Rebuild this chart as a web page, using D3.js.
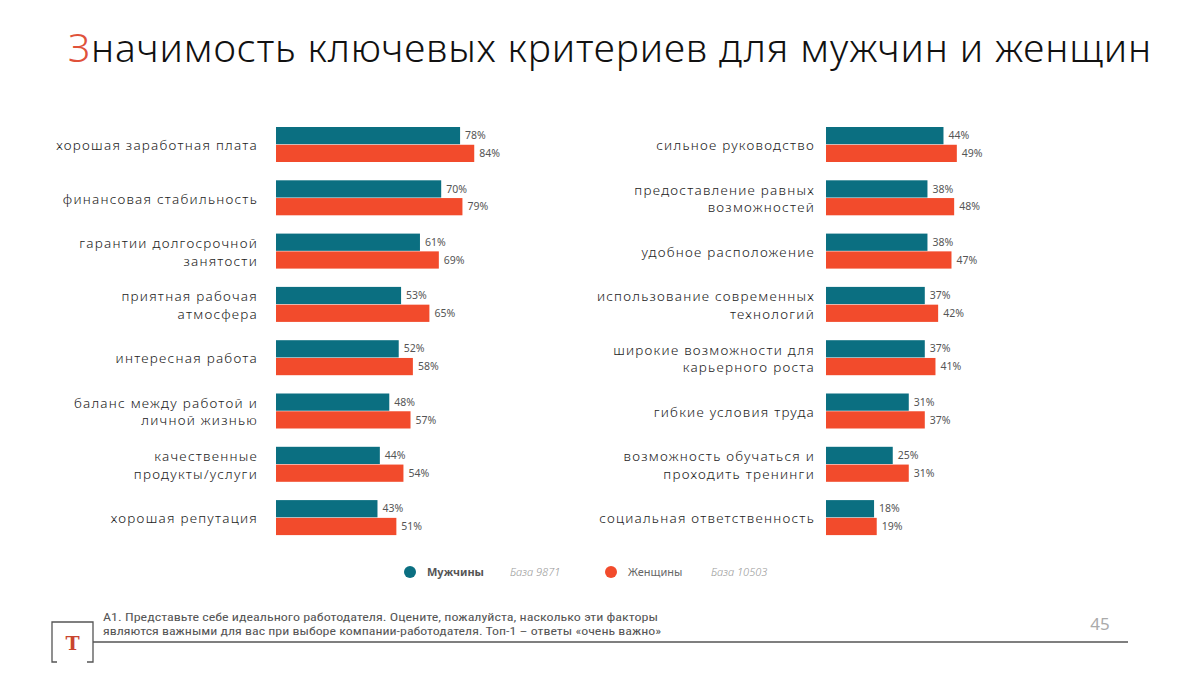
<!DOCTYPE html>
<html><head><meta charset="utf-8">
<script src="https://cdn.jsdelivr.net/npm/d3@7"></script>
<style>body{margin:0;background:#fff}svg{display:block}</style>
</head><body>
<svg id="c" width="1200" height="675"></svg>
<script>
const leftCats = ["хорошая заработная плата","финансовая стабильность","гарантии долгосрочной\nзанятости","приятная рабочая\nатмосфера","интересная работа","баланс между работой и\nличной жизнью","качественные\nпродукты/услуги","хорошая репутация"];
const leftMen = [78,70,61,53,52,48,44,43];
const leftWomen = [84,79,69,65,58,57,54,51];
const rightCats = ["сильное руководство","предоставление равных\nвозможностей","удобное расположение","использование современных\nтехнологий","широкие возможности для\nкарьерного роста","гибкие условия труда","возможность обучаться и\nпроходить тренинги","социальная ответственность"];
const rightMen = [44,38,38,37,37,31,25,18];
const rightWomen = [49,48,47,42,41,37,31,19];
const seriesNames = ["Мужчины","Женщины"];
const bases = ["База 9871","База 10503"];
const colors = ["#0b6f81","#f24b2c"];

const svg = d3.select("#c");
const font = "'Noto Sans', sans-serif";

// Title
const title = svg.append("text").attr("x",68).attr("y",62)
  .style("font-family",font).style("font-size","39px").style("font-weight","300").attr("fill","#111");
title.append("tspan").attr("fill","#e0523a").text("З");
title.append("tspan").text("начимость ключевых критериев для мужчин и женщин");
{
  const L = title.node().getComputedTextLength();
  const n = 49;
  title.style("letter-spacing", ((1084 - L)/n) + "px");
}

function panel(cats, men, women, x0, labelX, pxPer100) {
  const step = 53.3, bw = 35;
  const y = d3.scaleBand().domain(cats).range([127, 127 + 7*step + bw]).paddingInner(1 - bw/step).paddingOuter(0);
  const x = d3.scaleLinear().domain([0,100]).range([x0, x0 + pxPer100]);
  const sub = d3.scaleBand().domain([0,1]).range([0, y.bandwidth()]).paddingInner(0.03);
  const g = svg.append("g");
  const rows = cats.map((c,i)=>({c, v:[men[i],women[i]]}));
  const grp = g.selectAll("g.row").data(rows).join("g").attr("transform",d=>`translate(0,${y(d.c)})`);
  grp.selectAll("rect").data(d=>d.v).join("rect")
    .attr("x",x(0)).attr("y",(d,i)=>sub(i)).attr("height",sub.bandwidth())
    .attr("width",d=>x(d)-x(0)).attr("fill",(d,i)=>colors[i]);
  grp.selectAll("text.val").data(d=>d.v).join("text").attr("class","val")
    .attr("x",d=>x(d)+5).attr("y",(d,i)=>sub(i)+sub.bandwidth()/2).attr("dy","0.35em")
    .style("font-family",font).style("font-size","10.5px").attr("fill","#555")
    .text(d=>d+"%");
  grp.each(function(d){
    const lines = d.c.split("\n");
    const t = d3.select(this).append("text").attr("text-anchor","end")
      .style("font-family",font).style("font-size","13.5px").style("font-weight","300").style("letter-spacing","1.25px").attr("fill","#222");
    const cy = y.bandwidth()/2 + 1;
    const lh = 17.5;
    lines.forEach((ln,k)=>{
      t.append("tspan").attr("x",labelX).attr("y", cy + (k - (lines.length-1)/2)*lh).attr("dy","0.35em").text(ln);
    });
  });
}
panel(leftCats, leftMen, leftWomen, 276, 258, 236);
panel(rightCats, rightMen, rightWomen, 826, 815, 267);

// Legend
const lg = svg.append("g");
const legX = [410, 611];
const baseX = [510, 711];
seriesNames.forEach((s,i)=>{
  lg.append("circle").attr("cx",legX[i]).attr("cy",572).attr("r",6).attr("fill",colors[i]);
  lg.append("text").attr("x",legX[i]+17).attr("y",572).attr("dy","0.35em")
    .style("font-family",font).style("font-size","11px").style("font-weight",i===0?"700":"400")
    .attr("fill",i===0?"#555":"#666").text(s);
  lg.append("text").attr("x",baseX[i]).attr("y",572).attr("dy","0.35em")
    .style("font-family",font).style("font-size","11px").style("font-style","italic").style("font-weight","300")
    .attr("fill","#999").text(bases[i]);
});

// Footer
const ft = svg.append("g");
ft.append("path").attr("d","M57,662 H52 V622 H93 V662 H87").attr("fill","none").attr("stroke","#555").attr("stroke-width",1.3);
ft.append("line").attr("x1",93).attr("x2",1128).attr("y1",642).attr("y2",642).attr("stroke","#555").attr("stroke-width",1.5);
ft.append("text").attr("x",72.5).attr("y",650).attr("text-anchor","middle")
  .style("font-family","'DejaVu Serif', serif").style("font-size","19px").style("font-weight","700")
  .attr("fill","#c9452f").text("Т");
const notes = ["А1. Представьте себе идеального работодателя. Оцените, пожалуйста, насколько эти факторы","являются важными для вас при выборе компании-работодателя. Топ-1 – ответы «очень важно»"];
const noteW = [555, 558];
notes.forEach((n,i)=>{
  const t = ft.append("text").attr("x",103).attr("y",617 + i*14).attr("dy","0.35em")
    .style("font-family","'Liberation Sans Narrow', 'Roboto Condensed', Roboto, sans-serif").style("font-size","11.5px")
    .attr("fill","#555").text(n);
  t.attr("textLength", noteW[i]).attr("lengthAdjust","spacingAndGlyphs");
});
ft.append("text").attr("x",1100).attr("y",624).attr("dy","0.35em").attr("text-anchor","middle")
  .style("font-family",font).style("font-size","17px").attr("fill","#aaa").text("45");
</script>
</body></html>
